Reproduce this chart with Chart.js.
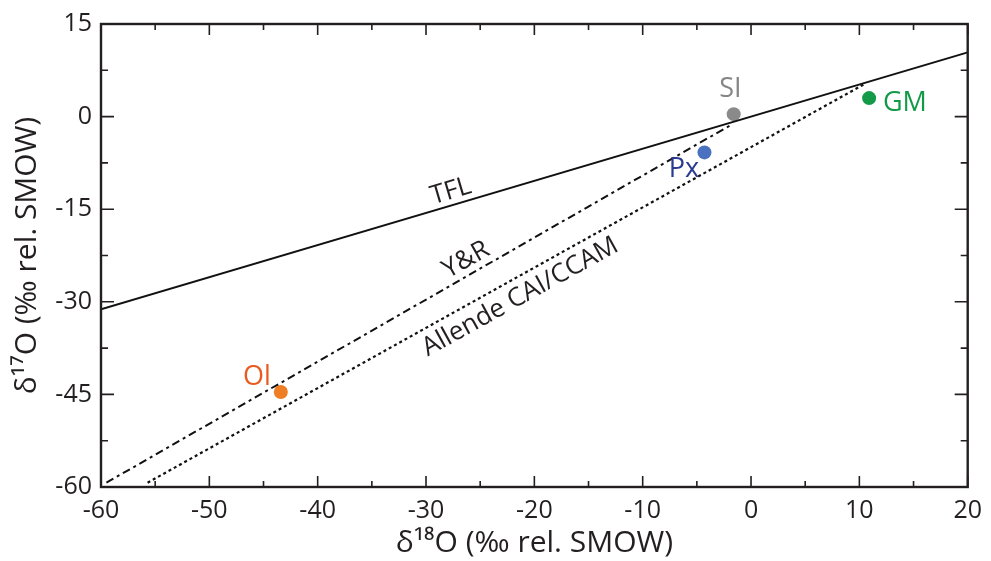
<!DOCTYPE html>
<html>
<head>
<meta charset="utf-8">
<script src="https://cdn.jsdelivr.net/npm/chart.js@4/dist/chart.umd.min.js"></script>
<style>
  html, body { margin: 0; padding: 0; background: #fff; }
  #wrap { width: 991px; height: 561px; }
</style>
</head>
<body>
<div id="wrap"><canvas id="grafica" width="991" height="561"></canvas></div>
<script>
// ejes
const xTicks = [-60, -50, -40, -30, -20, -10, 0, 10, 20];
const yTicks = [-60, -45, -30, -15, 0, 15];

// lineas de referencia
const tflX = [-60, 20];
const tflY = [-31.2, 10.4];
const yrX = [-59.5, -1.7];
const yrY = [-59.3, -1.2];
const ccamX = [-55.7, 10.5];
const ccamY = [-59.3, 5.3];

// muestras
const muestras = ["SI", "GM", "Px", "Ol"];
const muestraX = [-1.6, 10.9, -4.3, -43.4];
const muestraY = [0.4, 3.0, -5.8, -44.6];
const colorPunto = ["#8a8a8a", "#129a48", "#4a72c0", "#ee7d24"];
const colorTexto = ["#858585", "#129a48", "#2b3a92", "#e85a1e"];
// desplazamiento de la etiqueta en unidades de datos
const etiquetaDX = [-0.3, 3.3, -1.9, -2.2];
const etiquetaDY = [4.1, -0.8, -2.7, 2.4];

const lineaLabels = [
    { txt: "TFL", x: -27.7, y: -12.1, ang: -16.5 },
    { txt: "Y&R", x: -26.3, y: -23.2, ang: -29.5 },
    { txt: "Allende CAI/CCAM", x: -21.3, y: -29.2, ang: -29 }
];

const fuente = "'Open Sans', 'Liberation Sans', sans-serif";

function puntos(xs, ys) {
    return xs.map((x, i) => ({ x: x, y: ys[i] }));
}

// marco, marcas hacia dentro y textos
const marcoPlugin = {
    id: "marco",
    afterDatasetsDraw(chart) {
        const ctx = chart.ctx;
        const a = chart.chartArea;
        const sx = chart.scales.x;
        const sy = chart.scales.y;
        ctx.save();
        ctx.strokeStyle = "#231f20";
        ctx.lineWidth = 2.4;
        ctx.strokeRect(a.left, a.top, a.right - a.left, a.bottom - a.top);

        ctx.lineWidth = 1.6;
        ctx.beginPath();
        for (let i = 0; i < xTicks.length; i++) {
            const v = xTicks[i];
            const px = sx.getPixelForValue(v);
            ctx.moveTo(px, a.bottom); ctx.lineTo(px, a.bottom - 11);
            ctx.moveTo(px, a.top); ctx.lineTo(px, a.top + 11);
            if (i < xTicks.length - 1) {
                const pm = sx.getPixelForValue(v + 5);
                ctx.moveTo(pm, a.bottom); ctx.lineTo(pm, a.bottom - 6);
                ctx.moveTo(pm, a.top); ctx.lineTo(pm, a.top + 6);
            }
        }
        for (let i = 0; i < yTicks.length; i++) {
            const v = yTicks[i];
            const py = sy.getPixelForValue(v);
            ctx.moveTo(a.left, py); ctx.lineTo(a.left + 13, py);
            ctx.moveTo(a.right, py); ctx.lineTo(a.right - 13, py);
            if (i < yTicks.length - 1) {
                const pm = sy.getPixelForValue(v + 7.5);
                ctx.moveTo(a.left, pm); ctx.lineTo(a.left + 7, pm);
                ctx.moveTo(a.right, pm); ctx.lineTo(a.right - 7, pm);
            }
        }
        ctx.stroke();

        // etiquetas de las muestras
        ctx.font = "27px " + fuente;
        ctx.textAlign = "center";
        ctx.textBaseline = "middle";
        muestras.forEach((m, i) => {
            ctx.fillStyle = colorTexto[i];
            ctx.fillText(m,
                sx.getPixelForValue(muestraX[i] + etiquetaDX[i]),
                sy.getPixelForValue(muestraY[i] + etiquetaDY[i]));
        });

        // etiquetas de las lineas
        ctx.fillStyle = "#231f20";
        ctx.font = "26px " + fuente;
        lineaLabels.forEach(l => {
            ctx.save();
            ctx.translate(sx.getPixelForValue(l.x), sy.getPixelForValue(l.y));
            ctx.rotate(l.ang * Math.PI / 180);
            ctx.fillText(l.txt, 0, 0);
            ctx.restore();
        });
        ctx.restore();
    }
};

new Chart(document.getElementById("grafica"), {
    type: "scatter",
    data: {
        datasets: [
            {
                data: puntos(tflX, tflY), showLine: true, pointRadius: 0,
                borderColor: "#111", borderWidth: 2
            },
            {
                data: puntos(yrX, yrY), showLine: true, pointRadius: 0,
                borderColor: "#111", borderWidth: 2, borderDash: [8, 4, 3, 4]
            },
            {
                data: puntos(ccamX, ccamY), showLine: true, pointRadius: 0,
                borderColor: "#111", borderWidth: 2.2, borderDash: [3, 3]
            },
            {
                data: puntos(muestraX, muestraY), showLine: false,
                pointRadius: 7, pointBackgroundColor: colorPunto,
                pointBorderColor: colorPunto, pointBorderWidth: 0
            }
        ]
    },
    options: {
        responsive: false,
        animation: false,
        layout: { padding: { top: 22, right: 20, left: 0, bottom: 0 } },
        plugins: { legend: { display: false }, tooltip: { enabled: false } },
        scales: {
            x: {
                type: "linear", min: -60, max: 20,
                afterBuildTicks: s => { s.ticks = xTicks.map(v => ({ value: v })); },
                afterFit: s => { s.height = 74; },
                grid: { display: false, drawTicks: false },
                border: { display: false },
                ticks: { color: "#231f20", padding: 9, font: { family: fuente, size: 25 } },
                title: {
                    display: true, text: "δ¹⁸O (‰ rel. SMOW)", color: "#231f20",
                    padding: { top: 0, bottom: 0 }, font: { family: fuente, size: 30 }
                }
            },
            y: {
                type: "linear", min: -60, max: 15,
                afterBuildTicks: s => { s.ticks = yTicks.map(v => ({ value: v })); },
                afterFit: s => { s.width = 101; },
                grid: { display: false, drawTicks: false },
                border: { display: false },
                ticks: { color: "#231f20", padding: 9, font: { family: fuente, size: 25 } },
                title: {
                    display: true, text: "δ¹⁷O (‰ rel. SMOW)", color: "#231f20",
                    padding: { top: 9, bottom: 0 }, font: { family: fuente, size: 30 }
                }
            }
        }
    },
    plugins: [marcoPlugin]
});
</script>
</body>
</html>
